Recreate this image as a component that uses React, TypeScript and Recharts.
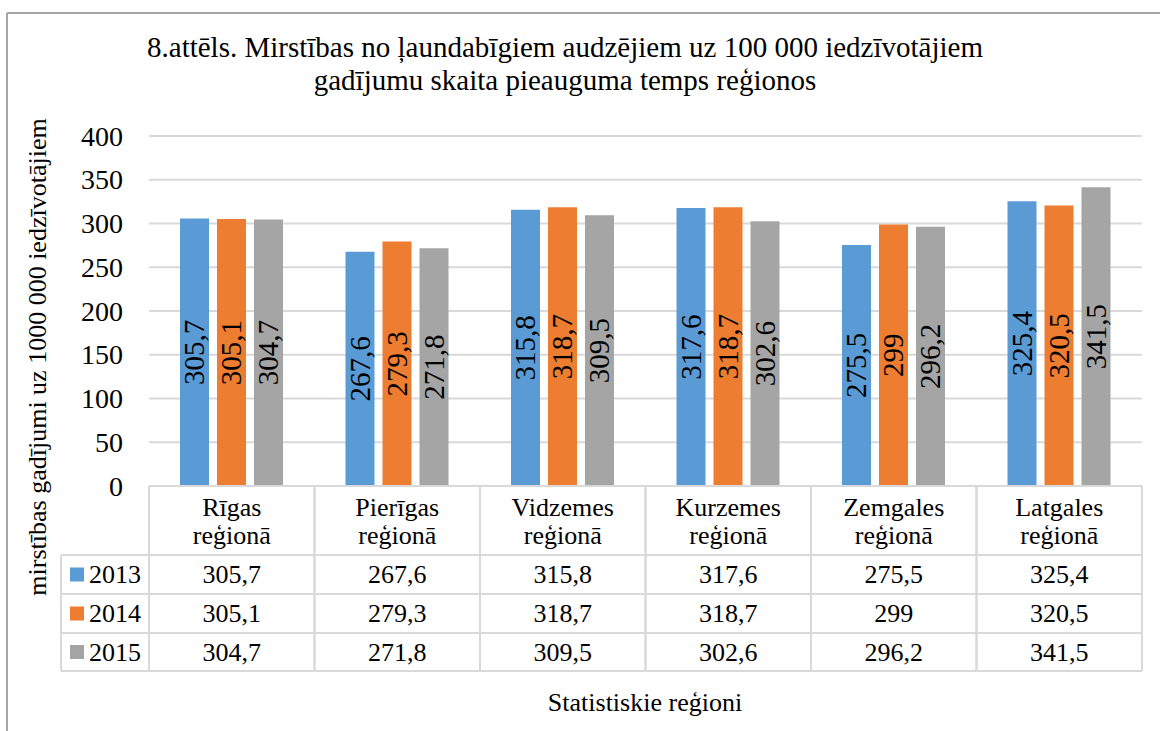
import React from "react";
import { BarChart, Bar, XAxis, YAxis, CartesianGrid, LabelList } from "recharts";

// ---- data ----
const categoriesLine1 = ["Rīgas", "Pierīgas", "Vidzemes", "Kurzemes", "Zemgales", "Latgales"];
const categoriesLine2 = ["reģionā", "reģionā", "reģionā", "reģionā", "reģionā", "reģionā"];
const values2013 = [305.7, 267.6, 315.8, 317.6, 275.5, 325.4];
const values2014 = [305.1, 279.3, 318.7, 318.7, 299, 320.5];
const values2015 = [304.7, 271.8, 309.5, 302.6, 296.2, 341.5];
const seriesNames = ["2013", "2014", "2015"];
const yTicks = [0, 50, 100, 150, 200, 250, 300, 350, 400];

const titleLines = [
  "8.attēls. Mirstības no ļaundabīgiem audzējiem uz 100 000 iedzīvotājiem",
  "gadījumu skaita pieauguma temps reģionos",
];
const yLabel = "mirstības gadījumi uz 1000 000 iedzīvotājiem";
const xLabel = "Statistiskie reģioni";

const COLORS = ["#5B9BD5", "#ED7D31", "#A5A5A5"];
const FONT = '"Liberation Serif", "Times New Roman", serif';

const seriesValues = [values2013, values2014, values2015];
const data = categoriesLine1.map((c, i) => ({
  name: c + " " + categoriesLine2[i],
  idx: i,
  y2013: values2013[i],
  y2014: values2014[i],
  y2015: values2015[i],
}));

const fmt = (v: any) => String(v).replace(".", ",");

// ---- layout ----
const W = 1160;
const H = 731;
const M = { top: 136, right: 18, bottom: 0, left: 89 };
const Y_AXIS_W = 60;
const X_AXIS_H = 245;
const PLOT_W = W - M.left - M.right - Y_AXIS_W;
const COL_W = PLOT_W / categoriesLine1.length;
const LEGEND_W = 88;
const GRID = "#d9d9d9";

const ROW_OFFS = [69, 108, 147, 185];

function TableTick(props: any) {
  const { x, y, payload } = props;
  const i = payload && typeof payload.index === "number" ? payload.index : props.index;
  const left = x - COL_W / 2;
  const right = x + COL_W / 2;
  const fs = 26;
  const els: any[] = [];
  els.push(<line key="t" x1={left} x2={right} y1={y} y2={y} stroke={GRID} strokeWidth={2} />);
  ROW_OFFS.forEach((o, k) =>
    els.push(<line key={"h" + k} x1={left} x2={right} y1={y + o} y2={y + o} stroke={GRID} strokeWidth={2} />)
  );
  els.push(<line key="l" x1={left} x2={left} y1={y} y2={y + ROW_OFFS[3]} stroke={GRID} strokeWidth={2} />);
  els.push(<line key="r" x1={right} x2={right} y1={y} y2={y + ROW_OFFS[3]} stroke={GRID} strokeWidth={2} />);
  els.push(
    <text key="c1" x={x} y={y + 21 + fs * 0.34} textAnchor="middle" fontFamily={FONT} fontSize={fs} fill="#000">
      {categoriesLine1[i]}
    </text>
  );
  els.push(
    <text key="c2" x={x} y={y + 49 + fs * 0.34} textAnchor="middle" fontFamily={FONT} fontSize={fs} fill="#000">
      {categoriesLine2[i]}
    </text>
  );
  seriesValues.forEach((vals, s) => {
    const cy = y + (ROW_OFFS[s] + ROW_OFFS[s + 1]) / 2;
    els.push(
      <text key={"v" + s} x={x} y={cy + fs * 0.34} textAnchor="middle" fontFamily={FONT} fontSize={fs} fill="#000">
        {fmt(vals[i])}
      </text>
    );
  });
  if (i === 0) {
    const ll = left - LEGEND_W;
    els.push(<line key="lt" x1={ll} x2={left} y1={y + ROW_OFFS[0]} y2={y + ROW_OFFS[0]} stroke={GRID} strokeWidth={2} />);
    els.push(<line key="ll" x1={ll} x2={ll} y1={y + ROW_OFFS[0]} y2={y + ROW_OFFS[3]} stroke={GRID} strokeWidth={2} />);
    ROW_OFFS.slice(1).forEach((o, k) =>
      els.push(<line key={"lh" + k} x1={ll} x2={left} y1={y + o} y2={y + o} stroke={GRID} strokeWidth={2} />)
    );
    seriesNames.forEach((n, s) => {
      const cy = y + (ROW_OFFS[s] + ROW_OFFS[s + 1]) / 2;
      els.push(<rect key={"sq" + s} x={ll + 9} y={cy - 7} width={14} height={14} fill={COLORS[s]} />);
      els.push(
        <text key={"ln" + s} x={ll + 28} y={cy + fs * 0.34} fontFamily={FONT} fontSize={fs} fill="#000">
          {n}
        </text>
      );
    });
  }
  return <g>{els}</g>;
}

function YTick(props: any) {
  const { x, y, payload } = props;
  return (
    <text x={x} y={y + 28 * 0.34} textAnchor="end" fontFamily={FONT} fontSize={28} fill="#000">
      {payload.value}
    </text>
  );
}

function BarValueLabel(props: any) {
  const { x, y, width, height, value } = props;
  const cx = x + width / 2;
  const cy = y + height / 2;
  return (
    <text
      x={cx}
      y={cy + 29 * 0.34}
      transform={`rotate(-90 ${cx} ${cy})`}
      textAnchor="middle"
      fontFamily={FONT}
      fontSize={29}
      fill="#000"
    >
      {fmt(value)}
    </text>
  );
}

export default function App() {
  return (
    <div
      style={{ position: "absolute", left: 0, top: 0, width: W, height: H, background: "#fff", fontFamily: FONT }}
    >
      <BarChart width={W} height={H} data={data} margin={M} barGap={8} barSize={29}>
        <CartesianGrid vertical={false} stroke={GRID} strokeWidth={2} />
        <XAxis
          dataKey="name"
          height={X_AXIS_H}
          axisLine={false}
          tickLine={false}
          tickSize={0}
          tickMargin={0}
          interval={0}
          tick={<TableTick />}
        />
        <YAxis
          width={Y_AXIS_W}
          domain={[0, 400]}
          ticks={yTicks}
          axisLine={false}
          tickLine={false}
          tickSize={0}
          tickMargin={26}
          tick={<YTick />}
        />
        {["y2013", "y2014", "y2015"].map((k, s) => (
          <Bar key={k} dataKey={k} fill={COLORS[s]} isAnimationActive={false}>
            <LabelList dataKey={k} content={<BarValueLabel />} />
          </Bar>
        ))}
      </BarChart>
      <svg width={W} height={H} style={{ position: "absolute", left: 0, top: 0, pointerEvents: "none" }}>
        <line x1={7} x2={W} y1={13} y2={13} stroke="#a6a6a6" strokeWidth={2} />
        <line x1={7} x2={7} y1={13} y2={H} stroke="#a6a6a6" strokeWidth={2} />
        <text x={565} y={57} textAnchor="middle" fontFamily={FONT} fontSize={29} fill="#000">
          {titleLines[0]}
        </text>
        <text x={565} y={90} textAnchor="middle" fontFamily={FONT} fontSize={29} fill="#000">
          {titleLines[1]}
        </text>
        <text
          x={46}
          y={357}
          transform="rotate(-90 46 357)"
          textAnchor="middle"
          fontFamily={FONT}
          fontSize={26}
          fill="#000"
        >
          {yLabel}
        </text>
        <text x={645} y={711} textAnchor="middle" fontFamily={FONT} fontSize={26} fill="#000">
          {xLabel}
        </text>
      </svg>
    </div>
  );
}
